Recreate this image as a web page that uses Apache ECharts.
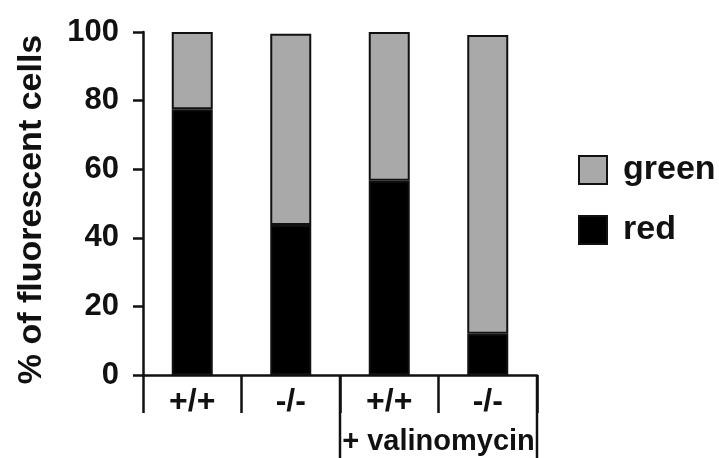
<!DOCTYPE html>
<html>
<head>
<meta charset="utf-8">
<script src="https://cdn.jsdelivr.net/npm/echarts@6/dist/echarts.min.js"></script>
<style>
  html, body { margin: 0; padding: 0; background: #fff; }
  #chart { width: 719px; height: 458px; }
</style>
</head>
<body>
<div id="chart"></div>
<script>
const categories = ['+/+', '-/-', '+/+', '-/-']
const groupLabels = ['', '+ valinomycin']
const redValues = [77.5, 43.7, 56.6, 12.0]
const greenValues = [22.5, 55.8, 43.4, 87.1]
const yTicks = [0, 20, 40, 60, 80, 100]

const font = '"Liberation Sans", Arial, sans-serif'
const ink = '#111'

const myChart = echarts.init(document.getElementById('chart'), null, { renderer: 'canvas' })

const option = {
    animation: false,
    grid: { left: 143, right: 182, top: 32, bottom: 83 },
    legend: {
        left: 573,
        top: 148,
        orient: 'vertical',
        itemWidth: 28,
        itemHeight: 28,
        itemGap: 26,
        icon: 'rect',
        data: ['green', 'red'],
        textStyle: {
            fontFamily: font,
            fontWeight: 'bold',
            fontSize: 34,
            color: ink,
            lineHeight: 30,
            padding: [0, 0, 0, 11]
        }
    },
    xAxis: [{
        type: 'category',
        data: categories,
        axisLine: { lineStyle: { color: ink, width: 2.5 } },
        axisTick: { show: true, length: 38, lineStyle: { color: ink, width: 2.5 } },
        axisLabel: {
            interval: 0,
            fontFamily: font,
            fontWeight: 'bold',
            fontSize: 32,
            color: ink,
            margin: 11
        }
    }, {
        type: 'category',
        data: groupLabels,
        position: 'bottom',
        offset: 52,
        axisLine: { show: false },
        axisTick: { show: false },
        axisLabel: {
            show: true,
            interval: 0,
            fontFamily: font,
            fontWeight: 'bold',
            fontSize: 29,
            color: ink,
            margin: 0
        }
    }],
    yAxis: {
        type: 'value',
        min: yTicks[0],
        max: yTicks[yTicks.length - 1],
        interval: 20,
        name: '% of fluorescent cells',
        nameLocation: 'middle',
        nameGap: 94,
        nameTextStyle: {
            fontFamily: font,
            fontWeight: 'bold',
            fontSize: 34,
            color: ink,
            padding: [0, 12, 0, 0]
        },
        splitLine: { show: false },
        axisLine: { show: true, lineStyle: { color: ink, width: 2.5 } },
        axisTick: { show: true, length: 10, lineStyle: { color: ink, width: 2.5 } },
        axisLabel: {
            fontFamily: font,
            fontWeight: 'bold',
            fontSize: 31,
            color: ink,
            margin: 24
        }
    },
    series: [{
        name: 'red',
        type: 'bar',
        stack: 'cells',
        barWidth: 41,
        itemStyle: { color: '#000', borderColor: ink, borderWidth: 2 },
        data: redValues
    }, {
        name: 'green',
        type: 'bar',
        stack: 'cells',
        barWidth: 41,
        itemStyle: { color: '#a9a9a9', borderColor: ink, borderWidth: 2 },
        data: greenValues
    }]
}

myChart.setOption(option)

// bracket lines under the "+ valinomycin" group, placed from the axis scale
const x1 = myChart.convertToPixel({ xAxisIndex: 0 }, 1)
const x2 = myChart.convertToPixel({ xAxisIndex: 0 }, 2)
const x3 = myChart.convertToPixel({ xAxisIndex: 0 }, 3)
const half = (x3 - x2) / 2
const y0 = myChart.convertToPixel({ yAxisIndex: 0 }, 0)
const yEnd = myChart.getHeight()

myChart.setOption({
    graphic: [x1 + (x2 - x1) / 2, x3 + half].map(x => ({
        type: 'line',
        shape: { x1: x, y1: y0, x2: x, y2: yEnd },
        style: { stroke: ink, lineWidth: 2.5 }
    }))
})
</script>
</body>
</html>
